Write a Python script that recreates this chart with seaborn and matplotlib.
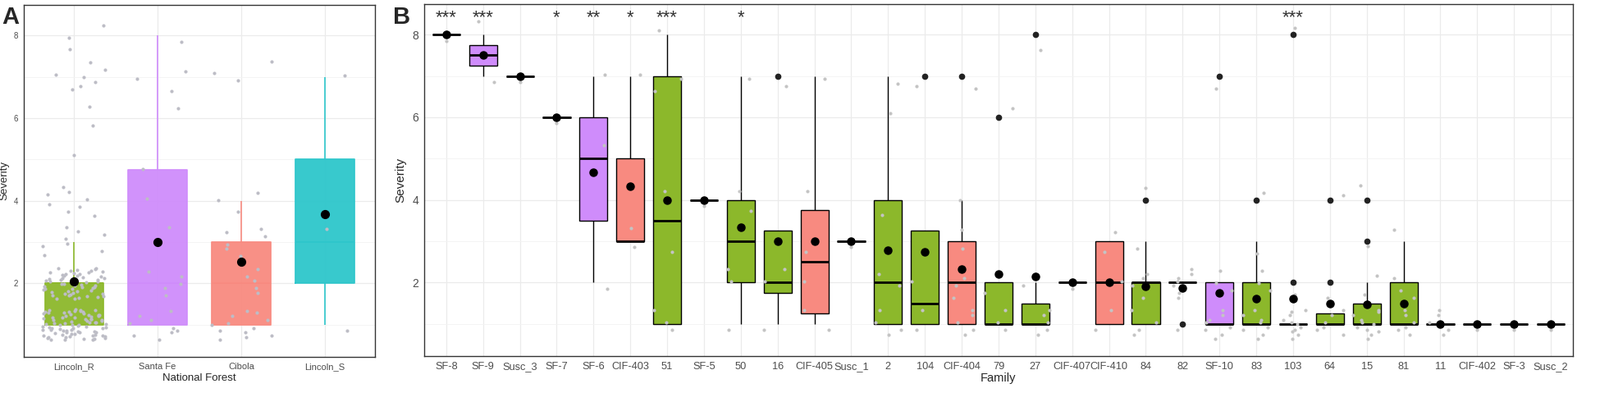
import numpy as np
import pandas as pd
import matplotlib
matplotlib.use("Agg")
import matplotlib.pyplot as plt
import seaborn as sns

# ---- Panel A: severity counts per national forest (severity 1..8)
severity_levels = [1, 2, 3, 4, 5, 6, 7, 8]
forests = ["Lincoln_R", "Santa Fe", "Cibola", "Lincoln_S"]
lincoln_r_counts = [80, 55, 8, 8, 1, 2, 7, 3]
santa_fe_counts = [9, 5, 1, 1, 1, 1, 3, 1]
cibola_counts = [12, 5, 6, 3, 0, 0, 3, 0]
lincoln_s_counts = [1, 0, 1, 0, 0, 0, 1, 0]
forest_colors = ["#8CB82B", "#CF8CFB", "#F88A80", "#2DC6CB"]

# ---- Panel B: severity scores per family
families = ["SF-8", "SF-9", "Susc_3", "SF-7", "SF-6", "CIF-403", "51", "SF-5",
            "50", "16", "CIF-405", "Susc_1", "2", "104", "CIF-404", "79", "27",
            "CIF-407", "CIF-410", "84", "82", "SF-10", "83", "103", "64", "15",
            "81", "11", "CIF-402", "SF-3", "Susc_2"]
family_scores = [
    [8], [7, 8], [7], [6], [2, 5, 7], [3, 3, 7], [1, 1, 1, 3, 4, 7, 7, 8], [4],
    [1, 2, 2, 4, 4, 7], [1, 2, 2, 7], [1, 1, 2, 3, 4, 7], [3],
    [1, 1, 1, 1, 2, 2, 4, 6, 7], [1, 1, 2, 7],
    [1, 1, 1, 1, 1, 2, 2, 2, 3, 3, 4, 7], [1, 1, 1, 2, 6],
    [1, 1, 1, 1, 1, 2, 8], [2], [1, 1, 2, 3, 3],
    [1, 1, 1, 1, 2, 2, 2, 2, 3, 4], [1, 2, 2, 2, 2, 2, 2, 2],
    [1, 1, 1, 1, 1, 1, 1, 1, 2, 2, 2, 7],
    [1, 1, 1, 1, 1, 1, 1, 1, 2, 2, 2, 3, 4],
    [1, 1, 1, 1, 1, 1, 1, 1, 1, 1, 1, 2, 8], [1, 1, 1, 1, 1, 1, 2, 4],
    [1, 1, 1, 1, 1, 1, 1, 1, 1, 1, 1, 2, 2, 3, 4],
    [1, 1, 1, 1, 1, 1, 2, 2, 2, 3], [1, 1, 1, 1, 1], [1], [1], [1]]
family_stars = ["***", "***", "", "*", "**", "*", "***", "", "*", "", "", "",
                "", "", "", "", "", "", "", "", "", "", "", "***", "", "", "",
                "", "", "", ""]
group_colors = {"SF": "#CF8CFB", "CIF": "#F88A80", "Susc": "#2DC6CB",
                "num": "#8CB82B"}


def group_of(name):
    for prefix in ["SF", "CIF", "Susc"]:
        if name.startswith(prefix):
            return prefix
    return "num"


def shaken(values, spread=0.38):
    # small vertical offsets so tied scores do not sit on top of each other
    steps = (np.arange(len(values)) * 0.618034 + 0.31) % 1.0
    return np.asarray(values, float) + (steps - 0.5) * 2 * spread


# build long tables
rows = []
for forest, counts in zip(forests, [lincoln_r_counts, santa_fe_counts,
                                    cibola_counts, lincoln_s_counts]):
    vals = np.repeat(severity_levels, counts)
    for v, vj in zip(vals, shaken(vals)):
        rows.append((forest, v, vj))
df_a = pd.DataFrame(rows, columns=["forest", "severity", "shown"])

rows = []
for fam, vals in zip(families, family_scores):
    for v, vj in zip(vals, shaken(vals)):
        rows.append((fam, v, vj))
df_b = pd.DataFrame(rows, columns=["family", "severity", "shown"])
family_palette = {f: group_colors[group_of(f)] for f in families}

sns.set_style("white")
plt.rcParams["font.family"] = ["Liberation Sans", "DejaVu Sans"]

fig = plt.figure(figsize=(19.5, 4.79), dpi=100)
ax_a = fig.add_axes([0.0149, 0.0919, 0.2195, 0.8956])
ax_b = fig.add_axes([0.2651, 0.0939, 0.7180, 0.8957])

# ---- Panel A
sns.boxplot(data=df_a, x="forest", y="severity", order=forests, hue="forest",
            palette=forest_colors, saturation=1, width=0.7, showfliers=False,
            showcaps=False, linewidth=0, legend=False, ax=ax_a,
            boxprops=dict(alpha=0.95))
sns.boxplot(data=df_a, x="forest", y="severity", order=forests, hue="forest",
            palette=forest_colors, saturation=1, width=0.7, showfliers=False,
            showcaps=False, fill=False, linewidth=1.2, legend=False, ax=ax_a)
sns.stripplot(data=df_a, x="forest", y="shown", order=forests, color="#BDBDC6",
              size=3, jitter=0.38, linewidth=0, zorder=3, ax=ax_a)
sns.pointplot(data=df_a, x="forest", y="severity", order=forests,
              estimator="mean", errorbar=None, color="black", linestyle="none",
              markers="o", markersize=6, zorder=4, ax=ax_a)

# ---- Panel B
sns.boxplot(data=df_b, x="family", y="severity", order=families, hue="family",
            palette=family_palette, saturation=1, width=0.76,
            linecolor="black", linewidth=1, showcaps=False, legend=False,
            flierprops=dict(marker="o", markerfacecolor="#222222",
                            markeredgecolor="#222222", markersize=4.5),
            medianprops=dict(linewidth=2, color="black"), ax=ax_b)
sns.stripplot(data=df_b, x="family", y="shown", order=families, color="#C4C4C4",
              size=3, jitter=0.38, linewidth=0, zorder=3, ax=ax_b)
sns.pointplot(data=df_b, x="family", y="severity", order=families,
              estimator="mean", errorbar=None, color="black", linestyle="none",
              markers="o", markersize=5.5, zorder=4, ax=ax_b)
for i, star in enumerate(family_stars):
    if star:
        ax_b.text(i, 8.40, star, ha="center", va="center", fontsize=16,
                  color="#333333", zorder=5)

# ---- shared styling (theme_bw look)
for ax, n in [(ax_a, len(forests)), (ax_b, len(families))]:
    ax.set_xlim(-0.6, n - 0.4)
    ax.set_ylim(0.22, 8.74)
    ax.set_yticks([2, 4, 6, 8])
    ax.set_yticks([1, 3, 5, 7], minor=True)
    ax.grid(which="major", color="#EBEBEB", linewidth=0.9)
    ax.grid(which="minor", axis="y", color="#F3F3F3", linewidth=0.6)
    ax.set_axisbelow(True)
    for sp in ax.spines.values():
        sp.set_visible(True)
        sp.set_color("#333333")
        sp.set_linewidth(1.0)
    ax.tick_params(which="major", length=3, width=0.8, color="#333333",
                   labelcolor="#4D4D4D", pad=2)
    ax.tick_params(which="minor", length=0)

ax_a.tick_params(axis="x", labelsize=8)
ax_a.tick_params(axis="y", labelsize=7)
ax_a.set_xlabel("National Forest", fontsize=9.5, labelpad=2)
ax_a.set_ylabel("Severity", fontsize=9.5, labelpad=4)

ax_b.tick_params(axis="x", labelsize=9.2)
ax_b.tick_params(axis="y", labelsize=10)
ax_b.set_xlabel("Family", fontsize=10.5, labelpad=1)
ax_b.set_ylabel("Severity", fontsize=11, labelpad=5)

fig.text(0.001, 0.985, "A", fontsize=21, fontweight="bold", va="top")
fig.text(0.2455, 0.985, "B", fontsize=21, fontweight="bold", va="top")

fig.savefig("out.png", dpi=100)
